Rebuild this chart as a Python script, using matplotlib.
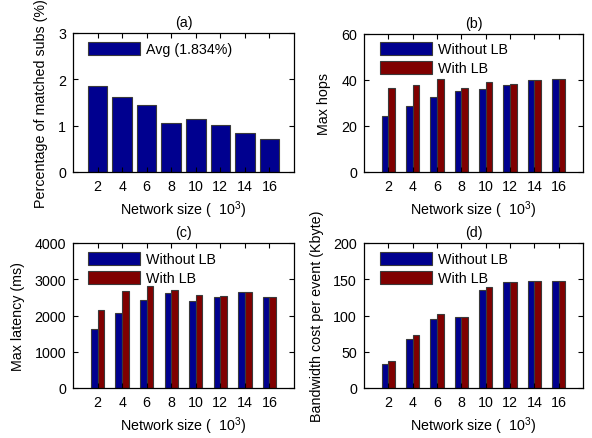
import numpy as np
import matplotlib
matplotlib.use('Agg')
import matplotlib.pyplot as plt

plt.rcParams['font.family'] = ['Liberation Sans', 'DejaVu Sans']
plt.rcParams['mathtext.default'] = 'regular'
plt.rcParams['font.size'] = 10.3

# Data
sizes = [2, 4, 6, 8, 10, 12, 14, 16]          # network size (x 10^3)
matched_pct = [1.85, 1.62, 1.45, 1.06, 1.15, 1.01, 0.85, 0.72]
hops_without = [24.2, 28.8, 32.8, 35.4, 36.2, 37.7, 40.1, 40.6]
hops_with = [36.7, 38.0, 40.6, 36.4, 39.1, 38.1, 40.0, 40.6]
lat_without = [1630, 2065, 2435, 2630, 2400, 2520, 2660, 2520]
lat_with = [2150, 2685, 2815, 2705, 2575, 2545, 2660, 2520]
bw_without = [32.9, 67.6, 95.8, 98.1, 135.6, 146.8, 148.1, 148.1]
bw_with = [36.6, 72.7, 101.9, 98.6, 139.4, 146.8, 147.7, 147.7]

BLUE = '#00008f'
RED = '#800000'
EDGE = '#3a3a3a'

W, H = 592, 439
fig = plt.figure(figsize=(W / 100, H / 100), dpi=100)


def px_axes(left, top, right, bottom):
    return fig.add_axes([left / W, 1 - bottom / H, (right - left) / W, (bottom - top) / H])


def style(ax, title, ylabel, ylim, yticks):
    ax.set_xlim(0, 9)
    ax.set_xticks(np.arange(1, len(sizes) + 1))
    ax.set_xticklabels([str(s) for s in sizes])
    ax.set_ylim(*ylim)
    ax.set_yticks(yticks)
    ax.tick_params(direction='in', top=True, right=True, length=3.5, width=0.8, pad=5)
    for sp in ax.spines.values():
        sp.set_linewidth(0.9)
    ax.set_title(title, fontsize=10.3, pad=5)
    ax.set_ylabel(ylabel, labelpad=7)
    ax.set_xlabel('Network size (  $10^3$)', labelpad=4)


def legend(ax, dx, dy, w_ax, h_ax):
    ax.legend(loc='upper left', bbox_to_anchor=(dx / w_ax, 1 - dy / h_ax),
              frameon=False, borderpad=0, borderaxespad=0,
              handlelength=3.6, handleheight=0.98, handletextpad=0.45,
              labelspacing=0.35)


x = np.arange(1, len(sizes) + 1)
bw = 0.27

# (a)
ax = px_axes(73, 34, 294, 173)
ax.bar(x, matched_pct, 0.8, color=BLUE, edgecolor=EDGE, linewidth=0.8, label='Avg (1.834%)')
style(ax, '(a)', 'Percentage of matched subs (%)', (0, 3), [0, 1, 2, 3])
legend(ax, 15, 9, 221, 139)

# (b)
ax = px_axes(364, 35, 583, 173)
ax.bar(x - bw / 2, hops_without, bw, color=BLUE, edgecolor=EDGE, linewidth=0.8, label='Without LB')
ax.bar(x + bw / 2, hops_with, bw, color=RED, edgecolor=EDGE, linewidth=0.8, label='With LB')
style(ax, '(b)', 'Max hops', (0, 60), [0, 20, 40, 60])
legend(ax, 16, 8, 219, 138)

# (c)
ax = px_axes(73, 244, 294, 389)
ax.bar(x - bw / 2, lat_without, bw, color=BLUE, edgecolor=EDGE, linewidth=0.8, label='Without LB')
ax.bar(x + bw / 2, lat_with, bw, color=RED, edgecolor=EDGE, linewidth=0.8, label='With LB')
style(ax, '(c)', 'Max latency (ms)', (0, 4000), [0, 1000, 2000, 3000, 4000])
legend(ax, 15, 9, 221, 145)

# (d)
ax = px_axes(364, 244, 583, 389)
ax.bar(x - bw / 2, bw_without, bw, color=BLUE, edgecolor=EDGE, linewidth=0.8, label='Without LB')
ax.bar(x + bw / 2, bw_with, bw, color=RED, edgecolor=EDGE, linewidth=0.8, label='With LB')
style(ax, '(d)', 'Bandwidth cost per event (Kbyte)', (0, 200), [0, 50, 100, 150, 200])
legend(ax, 16, 9, 219, 145)

fig.savefig('out.png', dpi=100)
